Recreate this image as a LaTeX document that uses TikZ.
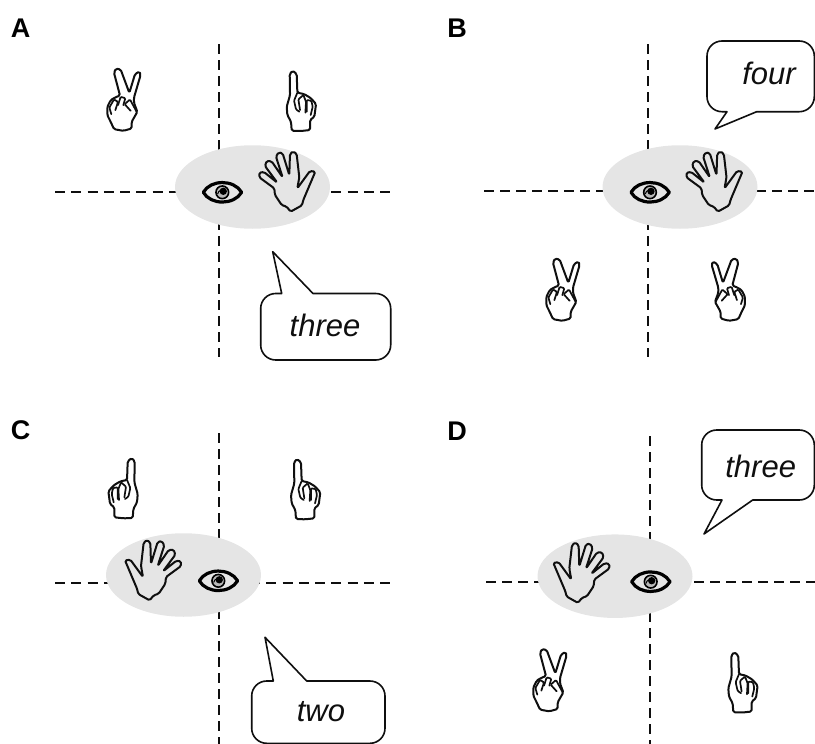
\documentclass[tikz,border=0pt]{standalone}
\usepackage{fontspec}
\setmainfont{Liberation Sans}
\usetikzlibrary{shapes.geometric}
\definecolor{blobgray}{RGB}{229,229,229}
\definecolor{inkblack}{RGB}{15,15,15}
\tikzset{
  inner units/.style={x=0.3333pt,y=-0.3333pt},
  handline/.style={draw=inkblack,line width=2pt,line join=round,line cap=round,rounded corners=1.5pt},
  foldline/.style={draw=inkblack,line width=1.7pt,line cap=round,rounded corners=1pt},
  crossline/.style={draw=inkblack,line width=2pt,dash pattern=on 10pt off 6pt},
  widecross/.style={draw=inkblack,line width=2pt,dash pattern=on 10pt off 6.25pt},
  blob/.style={ellipse,fill=blobgray,inner sep=0pt,minimum width=155pt,minimum height=83.5pt},
  bubble/.style={draw=inkblack,line width=1.6pt,line join=round,fill=white},
  saytext/.style={inner sep=0pt,font=\fontsize{31}{31}\selectfont\itshape,text=inkblack},
  panellabel/.style={inner sep=0pt,font=\fontsize{27}{27}\selectfont\bfseries,text=black},
  peacehand/.pic={
    \begin{scope}[inner units,shift={(-102,-118)}]
      \draw[handline] (72,207) -- (62,185) -- (52,165) -- (52,140) -- (62,120) -- (75,112) -- (90,106) -- (72,38) -- (78,25) -- (92,28) -- (118,98) -- (135,42) -- (148,34) -- (152,44) -- (132,112) -- (132,128) -- (142,155) -- (125,185) -- (125,205) -- (100,212) -- cycle;
      \draw[foldline] (64,162) -- (58,142) -- (72,118) -- (84,125) -- (76,150);
      \draw[foldline] (84,135) -- (92,110) -- (106,114) -- (100,135);
      \draw[foldline] (140,155) -- (120,118) -- (104,132) -- (122,152);
    \end{scope}
  },
  pointhand/.pic={
    \begin{scope}[inner units,shift={(-635,-122)}]
      \draw[handline] (605,212) -- (603,185) -- (592,165) -- (590,140) -- (600,105) -- (599,42) -- (608,32) -- (620,42) -- (622,98) -- (642,102) -- (662,114) -- (678,132) -- (673,170) -- (660,180) -- (660,210) -- (632,213) -- cycle;
      \draw[foldline] (622,98) -- (612,122) -- (618,148) -- (628,155);
      \draw[foldline] (630,150) -- (625,118) -- (640,105) -- (648,125) -- (646,158);
      \draw[foldline] (650,155) -- (650,120) -- (664,122) -- (668,140) -- (662,165);
    \end{scope}
  },
  palmhand/.pic={
    \begin{scope}[inner units,shift={(-592,-363)}]
      \draw[handline] (555,405) -- (553,385) -- (508,352) -- (508,338) -- (522,336) -- (562,368) -- (525,318) -- (530,303) -- (545,304) -- (578,352) -- (558,290) -- (566,277) -- (578,280) -- (598,345) -- (600,282) -- (610,274) -- (620,282) -- (628,352) -- (622,385) -- (660,333) -- (676,335) -- (640,420) -- (636,436) -- (602,455) -- (590,440) -- (575,435) -- cycle;
    \end{scope}
  },
  eyeicon/.pic={
    \begin{scope}[inner units,shift={(-397,-397)}]
      \draw[draw=black,line width=3.2pt,line join=round] (340,397) .. controls (362,358) and (432,358) .. (455,397) .. controls (432,436) and (362,436) .. (340,397) -- cycle;
      \draw[draw=black,line width=1.6pt,fill=gray!55] (397,397) circle (19);
      \fill[black] (400,394) circle (11);
      \draw[black,line width=1pt] (383,402) arc (190:300:15);
    \end{scope}
  }
}
\begin{document}
\begin{tikzpicture}[x=1pt,y=-1pt]
\useasboundingbox (0,0) rectangle (815,744);
% free ends of the dashed crosses
\coordinate (At) at (219,44);  \coordinate (Ab) at (219,357);
\coordinate (Al) at (55,192);  \coordinate (Ar) at (390,192);
\coordinate (Bt) at (648,44);  \coordinate (Bb) at (648,357);
\coordinate (Bl) at (484,191); \coordinate (Br) at (815,191);
\coordinate (Ct) at (219,433); \coordinate (Cb) at (219,744);
\coordinate (Cl) at (55,582.5);  \coordinate (Cr) at (390,582.5);
\coordinate (Dt) at (650,436); \coordinate (Db) at (650,744);
\coordinate (Dl) at (486,582.3);  \coordinate (Dr) at (815,582.3);
\draw[crossline] (At) -- (Ab); \draw[widecross] (Al) -- (Ar);
\draw[crossline] (Bt) -- (Bb); \draw[crossline] (Bl) -- (Br);
\draw[crossline] (Ct) -- (Cb); \draw[widecross] (Cl) -- (Cr);
\draw[crossline] (Dt) -- (Db); \draw[crossline] (Dl) -- (Dr);
% grey blobs
\node[blob] (blobA) at (252.5,187) {};
\node[blob] (blobB) at (680,187) {};
\node[blob] (blobC) at (183.5,575) {};
\node[blob] (blobD) at (615,576.2) {};
% panel A
\pic at (124,99.5) {peacehand};
\pic at (301.7,100.7) {pointhand};
\pic at (222.3,192.3) {eyeicon};
\pic at (287.3,181) {palmhand};
\draw[bubble] (281.7,293.5) [rounded corners=15pt] -- (260.7,293.5) -- (260.7,360) -- (390.7,360) -- (390.7,293.5) [sharp corners] -- (313,293.5) -- (272.7,251.7) -- cycle;
\node[saytext] (sayA) at (325,325) {three};
% panel B
\pic at (563,289.5) {peacehand};
\pic[xscale=-1] at (728.3,289.5) {peacehand};
\pic at (650,192.3) {eyeicon};
\pic at (714.5,181) {palmhand};
\draw[bubble] (727,111.7) [rounded corners=15pt] -- (707,111.7) -- (707,41) -- (814.3,41) -- (814.3,111.7) [sharp corners] -- (756.7,111.7) -- (715,129) -- cycle;
\node[saytext] (sayB) at (769,73) {four};
% panel C
\pic[xscale=-1] at (122.7,488) {pointhand};
\pic at (306,489) {pointhand};
\pic at (218.3,580.8) {eyeicon};
\pic[xscale=-1] at (153,569.7) {palmhand};
\draw[bubble] (273.3,681) [rounded corners=15pt] -- (251.7,681) -- (251.7,743.3) -- (385,743.3) -- (385,681) [sharp corners] -- (306.7,681) -- (265,637.3) -- cycle;
\node[saytext] (sayC) at (321,711.7) {two};
% panel D
\pic at (550,680) {peacehand};
\pic at (743.3,682.2) {pointhand};
\pic at (650.7,581.7) {eyeicon};
\pic[xscale=-1] at (581.3,572.2) {palmhand};
\draw[bubble] (722,500) [rounded corners=15pt] -- (701.7,500) -- (701.7,430) -- (814.3,430) -- (814.3,500) [sharp corners] -- (752.7,500) -- (704,534) -- cycle;
\node[saytext] (sayD) at (760.7,466) {three};
% panel letters
\node[panellabel] (labA) at (20.5,28) {A};
\node[panellabel] (labB) at (457,28) {B};
\node[panellabel] (labC) at (20.5,430) {C};
\node[panellabel] (labD) at (457,431) {D};
\end{tikzpicture}
\end{document}
